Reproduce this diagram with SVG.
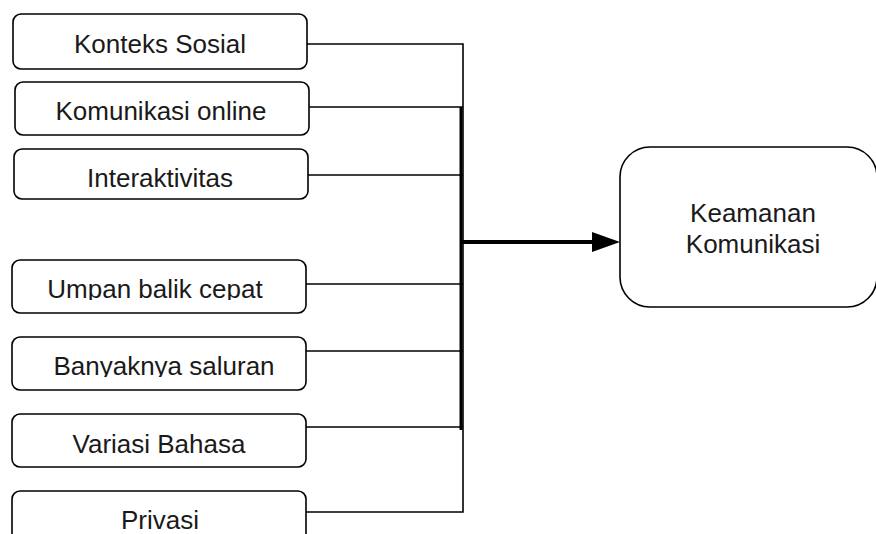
<svg xmlns="http://www.w3.org/2000/svg" width="876" height="534" viewBox="0 0 876 534">
<style>
.box{fill:#fff;stroke:#000;stroke-width:1.6}
.t{font-family:"Liberation Sans",Arial,sans-serif;font-size:26px;fill:#1a1a1a;text-anchor:middle}
.c{stroke:#000;stroke-width:1.6;fill:none}
.ck{stroke:#000;stroke-width:4;fill:none}
</style>
<defs>
<clipPath id="c4"><rect x="12" y="260" width="294" height="40"/></clipPath>
<clipPath id="c5"><rect x="12" y="337" width="294" height="40"/></clipPath>
</defs>
<g id="n1"><rect class="box" x="13" y="14" width="294" height="55" rx="8"/><text class="t" x="160" y="53">Konteks Sosial</text></g>
<g id="n2"><rect class="box" x="15" y="82" width="294" height="53" rx="8"/><text class="t" x="161" y="120">Komunikasi online</text></g>
<g id="n3"><rect class="box" x="14" y="149" width="294" height="50" rx="8"/><text class="t" x="160" y="187">Interaktivitas</text></g>
<g id="n4"><rect class="box" x="12" y="260" width="294" height="53" rx="8"/><text class="t" x="155" y="298" clip-path="url(#c4)">Umpan balik cepat</text></g>
<g id="n5"><rect class="box" x="12" y="337" width="294" height="53" rx="8"/><text class="t" x="164" y="375" clip-path="url(#c5)">Banyaknya saluran</text></g>
<g id="n6"><rect class="box" x="12" y="414" width="294" height="53" rx="8"/><text class="t" x="159" y="453">Variasi Bahasa</text></g>
<g id="n7"><rect class="box" x="12" y="491" width="294" height="60" rx="8"/><text class="t" x="160" y="529">Privasi</text></g>
<g id="n8"><rect class="box" x="620" y="147" width="257" height="160" rx="30"/><text class="t" x="753" y="222">Keamanan</text><text class="t" x="753" y="253">Komunikasi</text></g>
<g id="connectors">
<path class="c" d="M307,44 H463 V512 H306"/>
<path class="c" d="M309,107 H463"/>
<path class="c" d="M308,175 H463"/>
<path class="c" d="M306,284 H463"/>
<path class="c" d="M306,351 H463"/>
<path class="c" d="M306,427 H463"/>
<path class="ck" d="M461,107 V430" style="stroke-width:3"/>
<path class="ck" d="M461,242 H594"/>
<path d="M592,232 L620,242 L592,252 Z" fill="#000"/>
</g>
</svg>
